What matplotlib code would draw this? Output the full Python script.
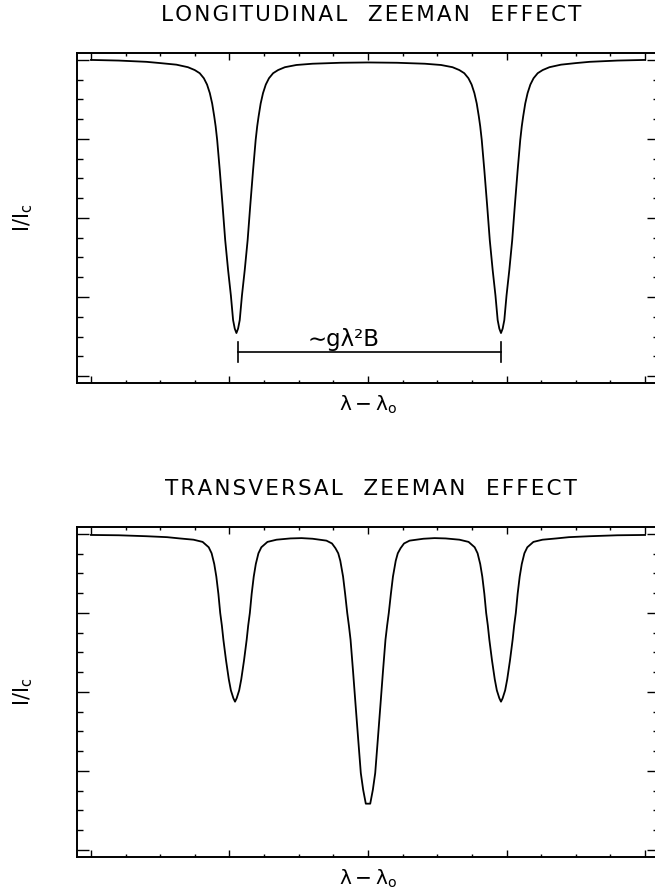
import matplotlib
matplotlib.use("Agg")
import matplotlib.pyplot as plt
from matplotlib.ticker import MultipleLocator

# longitudinal case: two sigma components
long_x = [-2.00, -1.80, -1.60, -1.50, -1.383, -1.30, -1.251, -1.215, -1.185, -1.162,
          -1.142, -1.125, -1.110, -1.100, -1.089, -1.070, -1.050, -1.031, -1.010, -0.990,
          -0.974, -0.962, -0.950, -0.938, -0.926, -0.910, -0.890, -0.869, -0.850, -0.830,
          -0.811, -0.800, -0.790, -0.775, -0.758, -0.738, -0.715, -0.685, -0.649, -0.600,
          -0.517, -0.400, -0.200, 0.000, 0.210, 0.410, 0.527, 0.610, 0.659, 0.695,
          0.725, 0.748, 0.768, 0.785, 0.800, 0.810, 0.821, 0.840, 0.860, 0.879,
          0.900, 0.920, 0.936, 0.948, 0.960, 0.972, 0.984, 1.000, 1.020, 1.041,
          1.060, 1.080, 1.099, 1.110, 1.120, 1.135, 1.152, 1.172, 1.195, 1.225,
          1.261, 1.310, 1.393, 1.500, 1.600, 1.800, 2.000]
long_y = [1.000, 0.998, 0.994, 0.990, 0.985, 0.977, 0.968, 0.958, 0.942, 0.922,
          0.895, 0.862, 0.821, 0.790, 0.747, 0.650, 0.540, 0.430, 0.335, 0.255,
          0.177, 0.150, 0.136, 0.150, 0.177, 0.255, 0.335, 0.430, 0.540, 0.650,
          0.747, 0.790, 0.821, 0.862, 0.895, 0.922, 0.942, 0.958, 0.968, 0.977,
          0.984, 0.988, 0.991, 0.992, 0.991, 0.988, 0.984, 0.977, 0.968, 0.958,
          0.942, 0.922, 0.895, 0.862, 0.821, 0.790, 0.747, 0.650, 0.540, 0.430,
          0.335, 0.255, 0.177, 0.150, 0.136, 0.150, 0.177, 0.255, 0.335, 0.430,
          0.540, 0.650, 0.747, 0.790, 0.821, 0.862, 0.895, 0.922, 0.942, 0.958,
          0.968, 0.977, 0.985, 0.990, 0.994, 0.998, 1.000]

# transversal case: sigma - pi - sigma
trans_x = [-2.00, -1.80, -1.60, -1.45, -1.36, -1.26, -1.194, -1.150, -1.129, -1.110,
           -1.095, -1.080, -1.067, -1.055, -1.044, -1.025, -1.005, -0.990, -0.972, -0.960,
           -0.948, -0.930, -0.915, -0.895, -0.876, -0.865, -0.853, -0.840, -0.825, -0.810,
           -0.791, -0.770, -0.726, -0.660, -0.560, -0.480, -0.400, -0.300, -0.260, -0.235,
           -0.215, -0.200, -0.180, -0.165, -0.150, -0.138, -0.126, -0.108, -0.090, -0.070,
           -0.052, -0.035, -0.016, 0.016, 0.035, 0.052, 0.070, 0.090, 0.108, 0.126,
           0.138, 0.150, 0.165, 0.180, 0.200, 0.215, 0.235, 0.260, 0.300, 0.400,
           0.480, 0.560, 0.660, 0.726, 0.770, 0.791, 0.810, 0.825, 0.840, 0.853,
           0.865, 0.876, 0.895, 0.915, 0.930, 0.948, 0.960, 0.972, 0.990, 1.005,
           1.025, 1.044, 1.055, 1.067, 1.080, 1.095, 1.110, 1.129, 1.150, 1.194,
           1.260, 1.360, 1.450, 1.600, 1.800, 2.000]
trans_y = [0.997, 0.996, 0.993, 0.990, 0.986, 0.982, 0.975, 0.958, 0.939, 0.905,
           0.865, 0.810, 0.750, 0.710, 0.665, 0.600, 0.540, 0.505, 0.480, 0.469,
           0.480, 0.505, 0.540, 0.600, 0.665, 0.710, 0.750, 0.810, 0.865, 0.905,
           0.939, 0.958, 0.975, 0.982, 0.986, 0.987, 0.985, 0.979, 0.970, 0.955,
           0.939, 0.915, 0.865, 0.810, 0.750, 0.710, 0.665, 0.565, 0.460, 0.345,
           0.243, 0.190, 0.146, 0.146, 0.190, 0.243, 0.345, 0.460, 0.565, 0.665,
           0.710, 0.750, 0.810, 0.865, 0.915, 0.939, 0.955, 0.970, 0.979, 0.985,
           0.987, 0.986, 0.982, 0.975, 0.958, 0.939, 0.905, 0.865, 0.810, 0.750,
           0.710, 0.665, 0.600, 0.540, 0.505, 0.480, 0.469, 0.480, 0.505, 0.540,
           0.600, 0.665, 0.710, 0.750, 0.810, 0.865, 0.905, 0.939, 0.958, 0.975,
           0.982, 0.986, 0.990, 0.993, 0.996, 0.997]

# splitting marker in the upper panel
split_x = [-0.936, 0.958]
split_y = 0.076

titles = [["LONGITUDINAL", "ZEEMAN", "EFFECT"], ["TRANSVERSAL", "ZEEMAN", "EFFECT"]]


def spaced(words):
    # the original lettering is a wide stroke font, so open up the letters a bit
    return "   ".join("\u200a".join(w) for w in words)


plt.rcParams["font.family"] = "DejaVu Sans"
plt.rcParams["mathtext.fontset"] = "dejavusans"

fig = plt.figure(figsize=(6.55, 8.94), dpi=100)
ax1 = fig.add_axes([0.1171, 0.5716, 0.8895, 0.3695])
ax2 = fig.add_axes([0.1171, 0.0417, 0.8895, 0.3691])

for ax, xs, ys, title in [(ax1, long_x, long_y, titles[0]), (ax2, trans_x, trans_y, titles[1])]:
    ax.plot(xs, ys, color="black", lw=1.3)
    ax.set_xlim(-2.103, 2.103)
    ax.set_ylim(-0.022, 1.023)
    ax.xaxis.set_major_locator(MultipleLocator(1.0))
    ax.xaxis.set_minor_locator(MultipleLocator(0.25))
    ax.yaxis.set_major_locator(MultipleLocator(0.25))
    ax.yaxis.set_minor_locator(MultipleLocator(0.0625))
    ax.tick_params(axis="both", which="both", direction="in", top=True, right=True,
                   labelbottom=False, labelleft=False, width=1.0, color="black")
    ax.tick_params(axis="x", which="major", length=4.8)
    ax.tick_params(axis="x", which="minor", length=2.4)
    ax.tick_params(axis="y", which="major", length=8.4)
    ax.tick_params(axis="y", which="minor", length=4.2)
    for sp in ax.spines.values():
        sp.set_linewidth(1.4)
    ax.set_title(spaced(title), fontsize=15.5, pad=23, x=0.505)
    ax.set_xlabel(r"$\mathrm{\lambda - \lambda_o}$", fontsize=14.5, labelpad=8)
    ax.set_ylabel(r"$\mathrm{I/I_c}$", fontsize=15, labelpad=30)

ax1.plot(split_x, [split_y, split_y], color="black", lw=1.2)
ax1.plot([split_x[0], split_x[0]], [split_y - 0.032, split_y + 0.032], color="black", lw=1.2)
ax1.plot([split_x[1], split_x[1]], [split_y - 0.032, split_y + 0.032], color="black", lw=1.2)
ax1.text(-0.173, 0.114, "∼gλ²B", fontsize=16.5, ha="center", va="center")

fig.savefig("out.png", dpi=100)
